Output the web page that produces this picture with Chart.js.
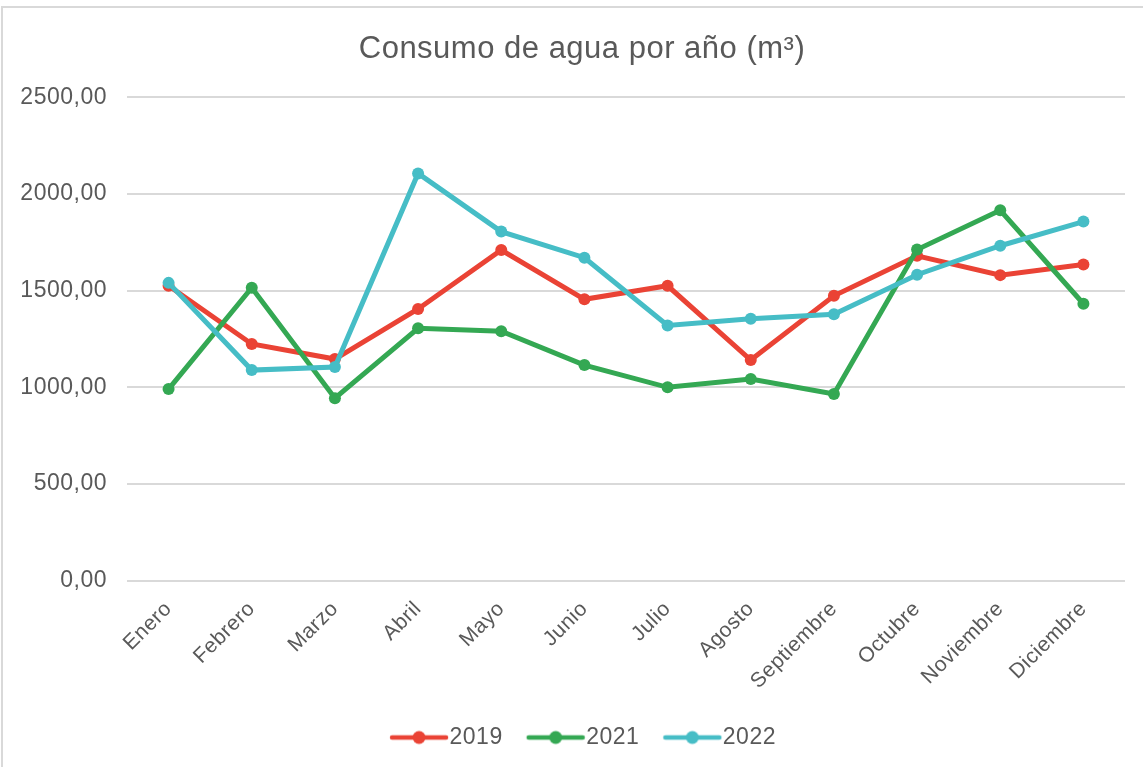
<!DOCTYPE html>
<html>
<head>
<meta charset="utf-8">
<script src="https://cdn.jsdelivr.net/npm/chart.js@4/dist/chart.umd.min.js"></script>
<style>
  html, body { margin: 0; padding: 0; background: #fff; overflow: hidden; }
  #wrap { position: relative; width: 1143px; height: 767px; }
  #frame { position: absolute; left: 1px; top: 6px; width: 1200px; height: 800px;
           border-top: 2px solid #d9d9d9; border-left: 2px solid #d9d9d9; pointer-events: none; }
</style>
</head>
<body>
<div id="wrap">
  <canvas id="chart"></canvas>
  <div id="frame"></div>
</div>
<script>
const months = ['Enero','Febrero','Marzo','Abril','Mayo','Junio','Julio','Agosto','Septiembre','Octubre','Noviembre','Diciembre'];
const values2019 = [1525, 1224, 1146, 1405, 1710, 1455, 1525, 1141, 1473, 1680, 1580, 1635];
const values2021 = [991, 1515, 944, 1305, 1290, 1115, 1000, 1043, 965, 1712, 1915, 1432];
const values2022 = [1540, 1089, 1105, 2106, 1805, 1670, 1320, 1355, 1378, 1582, 1732, 1857];
const yTicks = [0, 500, 1000, 1500, 2000, 2500];

const textColor = '#595959';
const red = '#EA4335', green = '#34A853', cyan = '#46BDC6';

// "line with dot" marker for the legend, line pushed right so it sits close to the text
function legendMark(color){
  const c = document.createElement('canvas');
  c.width = 80; c.height = 16;
  const g = c.getContext('2d');
  g.strokeStyle = color; g.lineWidth = 4.5; g.lineCap = 'round';
  g.beginPath(); g.moveTo(19, 8); g.lineTo(73, 8); g.stroke();
  g.fillStyle = color;
  g.beginPath(); g.arc(46, 8, 6.5, 0, Math.PI*2); g.fill();
  return c;
}

const spacing = {
  id: 'spacing',
  beforeLayout(chart){ chart.ctx.letterSpacing = '0.5px'; },
  beforeDraw(chart){ chart.ctx.letterSpacing = '0.5px'; }
};

function series(label, data, color){
  return {
    label: label,
    data: data,
    borderColor: color,
    backgroundColor: color,
    borderWidth: 5,
    pointRadius: 6,
    pointBorderWidth: 0,
    pointBackgroundColor: color,
    pointStyle: 'circle',
    legendMark: legendMark(color),
    tension: 0
  };
}

const ds2019 = series('2019', values2019, red);
const ds2021 = series('2021', values2021, green);
const ds2022 = series('2022', values2022, cyan);

new Chart(document.getElementById('chart'), {
  type: 'line',
  data: {
    labels: months,
    datasets: [ds2022, ds2021, ds2019]
  },
  plugins: [spacing],
  options: {
    responsive: true,
    maintainAspectRatio: false,
    animation: false,
    layout: { padding: { left: 39, right: 18, top: 0, bottom: 8 } },
    plugins: {
      title: {
        display: true,
        text: 'Consumo de agua por año (m³)',
        color: textColor,
        font: { family: 'Liberation Sans', size: 31, weight: 'normal' },
        padding: { top: 31, bottom: 29 }
      },
      legend: {
        position: 'bottom',
        reverse: true,
        labels: {
          color: textColor,
          font: { family: 'Liberation Sans', size: 23 },
          usePointStyle: true,
          pointStyleWidth: 50,
          padding: 22,
          generateLabels(chart){
            return chart.data.datasets.map((d, i) => ({
              text: d.label,
              fillStyle: d.borderColor,
              strokeStyle: d.borderColor,
              fontColor: textColor,
              lineWidth: 0,
              pointStyle: d.legendMark,
              datasetIndex: i,
              hidden: false
            }));
          }
        }
      },
      tooltip: { enabled: false }
    },
    scales: {
      x: {
        offset: true,
        grid: { display: false },
        border: { display: false },
        afterFit(scale){ scale.height = scale.height + 2; },
        ticks: {
          color: textColor,
          font: { family: 'Liberation Sans', size: 21 },
          minRotation: 45,
          maxRotation: 45,
          padding: 8
        }
      },
      y: {
        min: 0,
        max: 2500,
        afterBuildTicks(axis){ axis.ticks = yTicks.map(v => ({ value: v })); },
        afterFit(scale){
          scale.width = 88;
          // labels reach past the narrow axis box, so don't clip them
          scale._computeLabelArea = () => undefined;
        },
        grid: { color: '#d9d9d9', lineWidth: 2, drawTicks: false },
        border: { display: false },
        ticks: {
          color: textColor,
          font: { family: 'Liberation Sans', size: 23 },
          padding: 20,
          callback: v => v.toFixed(2).replace('.', ',')
        }
      }
    }
  }
});
</script>
</body>
</html>
